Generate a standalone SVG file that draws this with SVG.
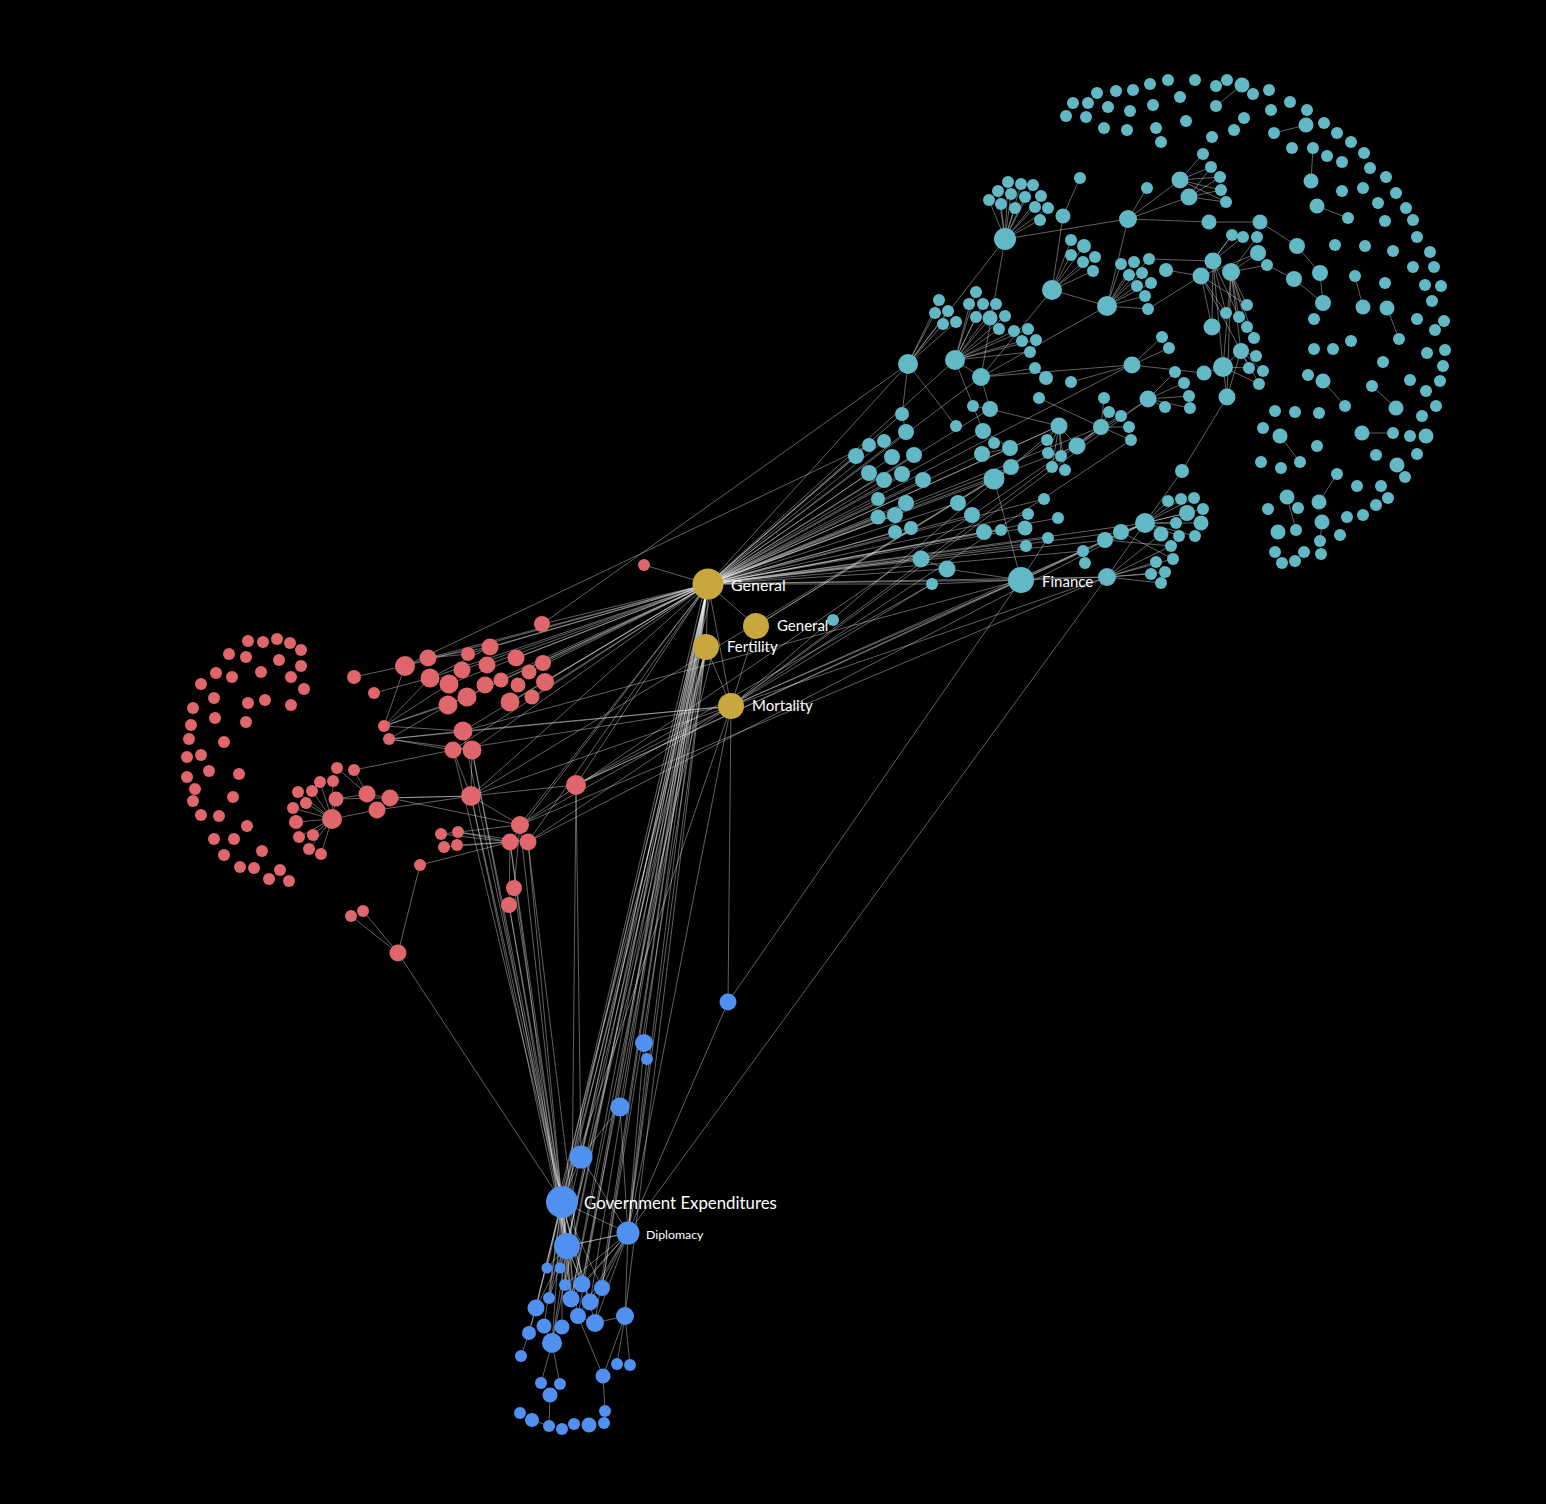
<svg xmlns="http://www.w3.org/2000/svg" width="1546" height="1504" viewBox="0 0 1546 1504">
<style>
.e{fill:none;stroke:#ffffff;stroke-opacity:0.55;stroke-width:0.7}
.teal circle{fill:#62b8c5}
.red circle{fill:#df666b}
.gold circle{fill:#c9a73f}
.blue circle{fill:#5090f0}
.lb{font-family:Lato,"Liberation Sans",sans-serif;fill:#ffffff}
</style>
<rect width="1546" height="1504" fill="#000000"/>
<g id="connectors">
<path class="e" d="
M708,584L908,364 M708,584L955,360 M708,584L981,377 M708,584L856,456 M708,584L869,445 M708,584L884,441 M708,584L892,457 M708,584L914,455 M708,584L869,473 M708,584L884,480 M708,584L902,474 M708,584L923,480 M708,584L878,499 M708,584L906,503 M708,584L878,517 M708,584L895,515 M708,584L911,528 M708,584L895,532 M708,584L921,559 M708,584L947,569 M708,584L994,479 M708,584L958,503 M708,584L972,515 M708,584L984,532 M708,584L1025,528 M708,584L1021,580 M708,584L1048,538 M708,584L1105,540 M708,584L1107,577 M708,584L1121,532 M708,584L1083,551 M708,584L1010,448 M708,584L1011,467 M708,584L1059,426 M708,584L1077,446 M708,584L906,432 M708,584L990,409 M708,584L1131,365 M708,584L932,584 M708,584L1001,530 M708,584L1028,514 M708,584L1044,499 M708,584L1058,518 M708,584L1145,523 M708,584L1101,427 M708,584L983,431 M708,584L982,454 M708,584L1026,546 M708,584L902,414
M708,584L542,624 M708,584L490,647 M708,584L516,658 M708,584L543,663 M708,584L545,682 M708,584L529,672 M708,584L532,697 M708,584L510,702 M708,584L487,665 M708,584L485,685 M708,584L468,654 M708,584L462,670 M708,584L467,697 M708,584L449,684 M708,584L448,705 M708,584L428,658 M708,584L430,678 M708,584L405,666 M708,584L463,731 M708,584L472,750 M708,584L453,750 M708,584L471,796 M708,584L520,825 M708,584L510,842 M708,584L528,842 M708,584L576,785 M708,584L644,565
M708,584L562,1202 M704,590L560,1200 M712,590L565,1200 M708,584L567,1246 M708,584L581,1157 M708,584L628,1233 M708,584L571,1299 M708,584L582,1284 M708,584L602,1288 M708,584L590,1302 M708,584L565,1285 M708,584L549,1298 M708,584L578,1316 M708,584L595,1323 M708,584L552,1343 M708,584L620,1107 M708,584L644,1043 M708,584L536,1308
M708,584L756,626 M708,584L706,647 M708,584L731,706 M756,626L731,706 M706,647L731,706
M706,647L562,1202 M706,647L567,1246 M706,647L581,1157 M706,647L628,1233 M706,647L571,1299 M706,647L582,1284 M706,647L602,1288 M706,647L625,1316 M700,655L558,1200 M712,655L566,1246
M731,706L471,796 M731,706L520,825 M731,706L528,842 M731,706L576,785 M731,706L453,750 M731,706L463,731 M731,706L389,739
M731,706L1101,427 M731,706L1131,440 M731,706L1145,523 M731,706L1107,577 M731,706L932,584 M731,706L1021,580 M731,706L1148,399 M731,706L1059,426
M731,706L728,1002 M731,706L628,1233 M731,706L562,1202
M756,626L1011,467 M756,626L994,479
M354,677L405,666 M374,693L430,678 M405,666L384,726 M405,666L428,658 M384,726L448,705 M384,726L449,684 M384,726L467,697 M384,726L463,731 M389,739L463,731 M389,739L453,750 M389,739L448,705 M389,739L472,750 M384,726L430,678 M428,658L490,647 M430,678L490,647 M428,658L468,654
M332,819L298,792 M332,819L312,791 M332,819L320,782 M332,819L333,781 M332,819L336,799 M332,819L306,803 M332,819L293,808 M332,819L296,822 M332,819L299,837 M332,819L313,835 M332,819L309,849 M332,819L321,854
M337,768L367,794 M354,770L367,794 M354,770L453,750 M336,799L367,794 M332,819L377,810 M367,794L390,798 M390,798L471,796 M377,810L471,796 M390,798L520,825 M336,799L471,796
M471,796L453,750 M471,796L472,750 M471,796L520,825 M471,796L576,785
M441,834L510,842 M458,832L510,842 M444,847L510,842 M457,845L510,842 M441,834L520,825 M458,832L528,842
M420,865L510,842 M420,865L398,953 M351,916L398,953 M363,911L398,953 M398,953L562,1202 M514,888L520,825 M509,905L510,842
M471,796L562,1202 M471,796L567,1246 M453,750L562,1202 M472,750L562,1202 M472,750L567,1246 M510,842L562,1202 M528,842L562,1202 M520,825L567,1246 M514,888L562,1202 M509,905L562,1202 M509,905L567,1246 M576,785L581,1157 M576,785L571,1299 M463,731L562,1202 M510,842L571,1299 M528,842L582,1284
M576,785L1105,540 M576,785L1145,523 M520,825L1107,577 M528,842L1145,523 M576,785L932,584 M542,624L908,364 M405,666L869,445 M520,825L1101,427 M471,796L994,479 M463,731L1021,580
M562,1202L581,1157 M562,1202L628,1233 M567,1246L628,1233 M562,1202L567,1246 M581,1157L620,1107 M620,1107L628,1233 M644,1043L628,1233 M647,1059L628,1233 M728,1002L628,1233 M581,1157L628,1233 M644,1043L647,1059
M562,1202L547,1268 M562,1202L560,1268 M562,1202L565,1285 M562,1202L582,1284 M562,1202L602,1288 M562,1202L549,1298 M562,1202L571,1299 M562,1202L590,1302 M562,1202L536,1308 M562,1202L578,1316 M562,1202L595,1323 M562,1202L544,1326 M562,1202L562,1327 M562,1202L552,1343 M562,1202L529,1333
M628,1233L602,1288 M628,1233L590,1302 M628,1233L582,1284 M628,1233L571,1299 M628,1233L625,1316 M628,1233L595,1323 M628,1233L578,1316 M628,1233L565,1285 M628,1233L567,1246
M567,1246L547,1268 M567,1246L565,1285 M567,1246L582,1284 M567,1246L549,1298 M567,1246L571,1299 M567,1246L536,1308 M567,1246L552,1343 M567,1246L590,1302
M625,1316L617,1364 M625,1316L630,1365 M625,1316L603,1376 M578,1316L603,1376 M552,1343L541,1383 M552,1343L560,1384 M550,1395L549,1426 M603,1376L605,1411 M521,1356L529,1333 M536,1308L529,1333 M578,1316L595,1323 M595,1323L625,1316 M552,1343L544,1326 M532,1420L549,1426
M1021,580L728,1002 M1107,577L628,1233
M1005,239L989,200 M1005,239L998,191 M1005,239L1008,182 M1005,239L1021,184 M1005,239L1033,185 M1005,239L1011,194 M1005,239L1025,197 M1005,239L1041,196 M1005,239L1001,204 M1005,239L1015,208 M1005,239L1035,207 M1005,239L1048,208 M1005,239L1040,220
M1005,239L1128,219 M1005,239L908,364 M1005,239L981,377 M1063,216L1080,178 M1063,216L1052,290
M1052,290L1071,240 M1052,290L1084,246 M1052,290L1071,255 M1052,290L1083,262 M1052,290L1095,257 M1052,290L1093,271 M1052,290L1107,306 M1052,290L981,377
M1128,219L1147,188 M1128,219L1180,180 M1128,219L1189,197 M1128,219L1209,222 M1128,219L1107,306
M1180,180L1203,154 M1180,180L1211,167 M1180,180L1220,177 M1180,180L1221,190 M1180,180L1226,202 M1189,197L1211,167 M1189,197L1220,177 M1189,197L1221,190 M1189,197L1226,202
M1209,222L1260,222
M1107,306L1121,264 M1107,306L1134,262 M1107,306L1149,259 M1107,306L1129,275 M1107,306L1142,273 M1107,306L1137,286 M1107,306L1151,283 M1107,306L1145,296 M1107,306L1148,309 M1107,306L981,377
M1166,270L1201,276 M1149,259L1213,261 M1148,309L1201,276
M1201,276L1232,235 M1213,261L1243,237 M1231,272L1257,237 M1231,272L1258,253 M1213,261L1232,235 M1201,276L1258,253
M1231,272L1247,305 M1231,272L1239,317 M1231,272L1247,327 M1231,272L1254,338 M1231,272L1241,351 M1231,272L1227,397 M1231,272L1223,367
M1213,261L1226,313 M1213,261L1212,327 M1213,261L1239,317 M1213,261L1223,367
M1201,276L1226,313 M1201,276L1212,327 M1201,276L1241,351 M1201,276L1247,305
M1241,351L1256,356 M1241,351L1249,368 M1241,351L1263,371 M1241,351L1259,384 M1241,351L1227,397 M1241,351L1223,367
M1223,367L1204,373 M1223,367L1227,397 M1223,367L1259,384 M1223,367L1249,368
M1231,272L1267,265 M1267,265L1294,279 M1294,279L1323,303 M1260,222L1297,246 M1297,246L1320,273 M1320,273L1323,303
M1355,276L1363,307 M1387,308L1399,339 M1323,381L1345,406 M1372,386L1396,408 M1280,436L1300,462 M1362,433L1393,433 M1337,474L1319,502 M1287,497L1296,530 M1322,522L1320,541 M1242,85L1216,106 M1306,125L1274,133 M1311,181L1313,148 M1317,206L1348,218
M908,364L939,300 M908,364L935,313 M908,364L948,311 M908,364L943,324 M908,364L956,322
M955,360L976,292 M955,360L970,304 M955,360L983,304 M955,360L996,304 M955,360L976,317 M955,360L990,318 M955,360L1005,316 M955,360L999,329 M955,360L1014,331 M955,360L1028,329 M955,360L1022,341 M955,360L1036,340 M955,360L1030,352
M908,364L902,414 M902,414L906,432 M981,377L1131,365 M981,377L1035,368 M981,377L955,360 M1035,368L1046,378
M1132,365L1162,337 M1132,365L1169,348 M1132,365L1204,373
M1148,399L1175,372 M1148,399L1184,383 M1148,399L1189,396 M1148,399L1190,408 M1148,399L1165,407
M1101,427L1104,398 M1101,427L1109,412 M1101,427L1121,416 M1101,427L1129,427 M1101,427L1131,440
M1059,426L1047,440 M1059,426L1048,453 M1059,426L1061,456 M1059,426L1052,467 M1059,426L1065,470 M1059,426L1077,446
M1077,446L1101,427 M1077,446L1148,399 M990,409L973,406 M990,409L1059,426 M983,431L1010,448 M994,479L1011,467 M982,454L1010,448 M955,360L983,431 M981,377L990,409
M994,479L1021,580 M1021,580L1107,577 M932,584L1021,580 M1021,580L1048,538 M1021,580L1083,551 M921,559L947,569 M947,569L1021,580
M1145,523L1168,501 M1145,523L1181,499 M1145,523L1194,498 M1145,523L1203,509 M1145,523L1187,513 M1145,523L1201,523 M1145,523L1176,523 M1145,523L1195,536 M1145,523L1179,536 M1145,523L1161,534 M1145,523L1121,532 M1145,523L1105,540
M1145,523L1182,471 M1182,471L1227,397
M1107,577L1171,546 M1107,577L1173,559 M1107,577L1156,562 M1107,577L1165,572 M1107,577L1151,574 M1107,577L1161,583 M1107,577L1161,534 M1107,577L1145,523 M1105,540L1171,546 M1121,532L1173,559
M908,364L956,426 M1010,448L1059,426 M1011,467L1047,440 M1071,382L1132,365 M1039,398L1101,427
"/>
</g>
<g class="teal">
<g id="t1"><circle cx="1073" cy="103" r="6"/></g>
<g id="t2"><circle cx="1088" cy="103" r="6"/></g>
<g id="t3"><circle cx="1097" cy="93" r="6"/></g>
<g id="t4"><circle cx="1116" cy="91" r="6"/></g>
<g id="t5"><circle cx="1133" cy="90" r="6"/></g>
<g id="t6"><circle cx="1150" cy="84" r="6"/></g>
<g id="t7"><circle cx="1168" cy="80" r="6"/></g>
<g id="t8"><circle cx="1195" cy="80" r="6"/></g>
<g id="t9"><circle cx="1216" cy="86" r="6"/></g>
<g id="t10"><circle cx="1227" cy="80" r="6"/></g>
<g id="t11"><circle cx="1242" cy="85" r="7.5"/></g>
<g id="t12"><circle cx="1253" cy="94" r="6"/></g>
<g id="t13"><circle cx="1269" cy="90" r="6"/></g>
<g id="t14"><circle cx="1066" cy="116" r="6"/></g>
<g id="t15"><circle cx="1086" cy="117" r="6"/></g>
<g id="t16"><circle cx="1108" cy="107" r="6"/></g>
<g id="t17"><circle cx="1130" cy="111" r="6"/></g>
<g id="t18"><circle cx="1153" cy="105" r="6"/></g>
<g id="t19"><circle cx="1180" cy="97" r="6"/></g>
<g id="t20"><circle cx="1216" cy="106" r="6"/></g>
<g id="t21"><circle cx="1104" cy="128" r="6"/></g>
<g id="t22"><circle cx="1127" cy="130" r="6"/></g>
<g id="t23"><circle cx="1156" cy="128" r="6"/></g>
<g id="t24"><circle cx="1161" cy="142" r="6"/></g>
<g id="t25"><circle cx="1186" cy="121" r="6"/></g>
<g id="t26"><circle cx="1212" cy="137" r="6"/></g>
<g id="t27"><circle cx="1234" cy="130" r="6"/></g>
<g id="t28"><circle cx="1244" cy="118" r="6"/></g>
<g id="t29"><circle cx="1271" cy="110" r="6"/></g>
<g id="t30"><circle cx="1290" cy="102" r="6"/></g>
<g id="t31"><circle cx="1307" cy="110" r="6"/></g>
<g id="t32"><circle cx="1274" cy="133" r="6"/></g>
<g id="t33"><circle cx="1306" cy="125" r="7.5"/></g>
<g id="t34"><circle cx="1324" cy="123" r="6"/></g>
<g id="t35"><circle cx="1337" cy="133" r="6"/></g>
<g id="t36"><circle cx="1351" cy="142" r="6"/></g>
<g id="t37"><circle cx="1364" cy="153" r="6"/></g>
<g id="t38"><circle cx="1370" cy="168" r="6"/></g>
<g id="t39"><circle cx="1386" cy="177" r="6"/></g>
<g id="t40"><circle cx="1396" cy="193" r="6"/></g>
<g id="t41"><circle cx="1406" cy="208" r="6"/></g>
<g id="t42"><circle cx="1413" cy="220" r="6"/></g>
<g id="t43"><circle cx="1385" cy="221" r="6"/></g>
<g id="t44"><circle cx="1378" cy="203" r="6"/></g>
<g id="t45"><circle cx="1363" cy="188" r="6"/></g>
<g id="t46"><circle cx="1342" cy="191" r="6"/></g>
<g id="t47"><circle cx="1342" cy="162" r="6"/></g>
<g id="t48"><circle cx="1327" cy="156" r="6"/></g>
<g id="t49"><circle cx="1313" cy="148" r="6"/></g>
<g id="t50"><circle cx="1292" cy="148" r="6"/></g>
<g id="t51"><circle cx="1311" cy="181" r="7.5"/></g>
<g id="t52"><circle cx="1317" cy="206" r="7.5"/></g>
<g id="t53"><circle cx="1348" cy="218" r="6"/></g>
<g id="t54"><circle cx="1203" cy="154" r="6"/></g>
<g id="t55"><circle cx="1211" cy="167" r="6"/></g>
<g id="t56"><circle cx="1220" cy="177" r="6"/></g>
<g id="t57"><circle cx="1221" cy="190" r="6"/></g>
<g id="t58"><circle cx="1226" cy="202" r="6"/></g>
<g id="t59"><circle cx="1180" cy="180" r="8.5"/></g>
<g id="t60"><circle cx="1189" cy="197" r="8.5"/></g>
<g id="t61"><circle cx="1147" cy="188" r="6"/></g>
<g id="t62"><circle cx="1128" cy="219" r="9"/></g>
<g id="t63"><circle cx="1209" cy="222" r="7.5"/></g>
<g id="t64"><circle cx="1260" cy="222" r="7.5"/></g>
<g id="t65"><circle cx="1080" cy="178" r="6"/></g>
<g id="t66"><circle cx="1063" cy="216" r="7.5"/></g>
<g id="t67"><circle cx="1243" cy="237" r="6"/></g>
<g id="t68"><circle cx="1257" cy="237" r="6"/></g>
<g id="t69"><circle cx="1232" cy="235" r="6"/></g>
<g id="t70"><circle cx="1258" cy="253" r="8"/></g>
<g id="t71"><circle cx="1231" cy="272" r="9"/></g>
<g id="t72"><circle cx="1267" cy="265" r="6"/></g>
<g id="t73"><circle cx="1297" cy="246" r="8"/></g>
<g id="t74"><circle cx="1320" cy="273" r="8"/></g>
<g id="t75"><circle cx="1294" cy="279" r="8"/></g>
<g id="t76"><circle cx="1323" cy="303" r="8"/></g>
<g id="t77"><circle cx="1314" cy="319" r="6"/></g>
<g id="t78"><circle cx="1335" cy="245" r="6"/></g>
<g id="t79"><circle cx="1365" cy="246" r="6"/></g>
<g id="t80"><circle cx="1393" cy="251" r="6"/></g>
<g id="t81"><circle cx="1417" cy="237" r="6"/></g>
<g id="t82"><circle cx="1430" cy="252" r="6"/></g>
<g id="t83"><circle cx="1413" cy="267" r="6"/></g>
<g id="t84"><circle cx="1434" cy="267" r="6"/></g>
<g id="t85"><circle cx="1425" cy="285" r="6"/></g>
<g id="t86"><circle cx="1441" cy="286" r="6"/></g>
<g id="t87"><circle cx="1432" cy="301" r="6"/></g>
<g id="t88"><circle cx="1417" cy="319" r="6"/></g>
<g id="t89"><circle cx="1444" cy="321" r="6"/></g>
<g id="t90"><circle cx="1435" cy="330" r="6"/></g>
<g id="t91"><circle cx="1355" cy="276" r="6"/></g>
<g id="t92"><circle cx="1363" cy="307" r="7.5"/></g>
<g id="t93"><circle cx="1385" cy="283" r="6"/></g>
<g id="t94"><circle cx="1387" cy="308" r="7.5"/></g>
<g id="t95"><circle cx="1399" cy="339" r="6"/></g>
<g id="t96"><circle cx="1351" cy="341" r="6"/></g>
<g id="t97"><circle cx="1314" cy="349" r="6"/></g>
<g id="t98"><circle cx="1333" cy="349" r="6"/></g>
<g id="t99"><circle cx="1427" cy="353" r="6"/></g>
<g id="t100"><circle cx="1445" cy="350" r="6"/></g>
<g id="t101"><circle cx="1443" cy="366" r="6"/></g>
<g id="t102"><circle cx="1383" cy="362" r="6"/></g>
<g id="t103"><circle cx="1440" cy="381" r="6"/></g>
<g id="t104"><circle cx="1410" cy="380" r="6"/></g>
<g id="t105"><circle cx="1426" cy="391" r="6"/></g>
<g id="t106"><circle cx="1436" cy="406" r="6"/></g>
<g id="t107"><circle cx="1422" cy="416" r="6"/></g>
<g id="t108"><circle cx="1372" cy="386" r="6"/></g>
<g id="t109"><circle cx="1396" cy="408" r="7.5"/></g>
<g id="t110"><circle cx="1308" cy="375" r="6"/></g>
<g id="t111"><circle cx="1323" cy="381" r="7.5"/></g>
<g id="t112"><circle cx="1345" cy="406" r="6"/></g>
<g id="t113"><circle cx="1275" cy="411" r="6"/></g>
<g id="t114"><circle cx="1295" cy="412" r="6"/></g>
<g id="t115"><circle cx="1319" cy="413" r="6"/></g>
<g id="t116"><circle cx="1263" cy="428" r="6"/></g>
<g id="t117"><circle cx="1280" cy="436" r="7.5"/></g>
<g id="t118"><circle cx="1300" cy="462" r="6"/></g>
<g id="t119"><circle cx="1261" cy="462" r="6"/></g>
<g id="t120"><circle cx="1281" cy="468" r="6"/></g>
<g id="t121"><circle cx="1317" cy="446" r="6"/></g>
<g id="t122"><circle cx="1362" cy="433" r="7.5"/></g>
<g id="t123"><circle cx="1393" cy="433" r="6"/></g>
<g id="t124"><circle cx="1410" cy="436" r="6"/></g>
<g id="t125"><circle cx="1426" cy="436" r="7.5"/></g>
<g id="t126"><circle cx="1376" cy="455" r="6"/></g>
<g id="t127"><circle cx="1417" cy="454" r="6"/></g>
<g id="t128"><circle cx="1397" cy="465" r="7.5"/></g>
<g id="t129"><circle cx="1405" cy="477" r="6"/></g>
<g id="t130"><circle cx="1337" cy="474" r="6"/></g>
<g id="t131"><circle cx="1357" cy="486" r="6"/></g>
<g id="t132"><circle cx="1381" cy="486" r="6"/></g>
<g id="t133"><circle cx="1388" cy="498" r="6"/></g>
<g id="t134"><circle cx="1376" cy="505" r="6"/></g>
<g id="t135"><circle cx="1363" cy="515" r="6"/></g>
<g id="t136"><circle cx="1347" cy="517" r="6"/></g>
<g id="t137"><circle cx="1340" cy="535" r="6"/></g>
<g id="t138"><circle cx="1287" cy="497" r="7.5"/></g>
<g id="t139"><circle cx="1268" cy="509" r="6"/></g>
<g id="t140"><circle cx="1298" cy="508" r="6"/></g>
<g id="t141"><circle cx="1319" cy="502" r="7.5"/></g>
<g id="t142"><circle cx="1322" cy="522" r="7.5"/></g>
<g id="t143"><circle cx="1278" cy="532" r="7.5"/></g>
<g id="t144"><circle cx="1296" cy="530" r="6"/></g>
<g id="t145"><circle cx="1320" cy="541" r="6"/></g>
<g id="t146"><circle cx="1321" cy="554" r="6"/></g>
<g id="t147"><circle cx="1275" cy="552" r="6"/></g>
<g id="t148"><circle cx="1304" cy="552" r="6"/></g>
<g id="t149"><circle cx="1282" cy="563" r="6"/></g>
<g id="t150"><circle cx="1295" cy="561" r="6"/></g>
<g id="t151"><circle cx="1247" cy="305" r="6"/></g>
<g id="t152"><circle cx="1239" cy="317" r="6"/></g>
<g id="t153"><circle cx="1247" cy="327" r="6"/></g>
<g id="t154"><circle cx="1254" cy="338" r="6"/></g>
<g id="t155"><circle cx="1241" cy="351" r="8"/></g>
<g id="t156"><circle cx="1256" cy="356" r="6"/></g>
<g id="t157"><circle cx="1249" cy="368" r="6"/></g>
<g id="t158"><circle cx="1263" cy="371" r="6"/></g>
<g id="t159"><circle cx="1259" cy="384" r="6"/></g>
<g id="t160"><circle cx="1227" cy="397" r="8.5"/></g>
<g id="t161"><circle cx="1005" cy="239" r="11"/></g>
<g id="t162"><circle cx="989" cy="200" r="6"/></g>
<g id="t163"><circle cx="998" cy="191" r="6"/></g>
<g id="t164"><circle cx="1008" cy="182" r="6"/></g>
<g id="t165"><circle cx="1021" cy="184" r="6"/></g>
<g id="t166"><circle cx="1033" cy="185" r="6"/></g>
<g id="t167"><circle cx="1011" cy="194" r="6"/></g>
<g id="t168"><circle cx="1025" cy="197" r="6"/></g>
<g id="t169"><circle cx="1041" cy="196" r="6"/></g>
<g id="t170"><circle cx="1001" cy="204" r="6"/></g>
<g id="t171"><circle cx="1015" cy="208" r="6"/></g>
<g id="t172"><circle cx="1035" cy="207" r="6"/></g>
<g id="t173"><circle cx="1048" cy="208" r="6"/></g>
<g id="t174"><circle cx="1040" cy="220" r="6"/></g>
<g id="t175"><circle cx="1052" cy="290" r="10"/></g>
<g id="t176"><circle cx="1071" cy="240" r="6"/></g>
<g id="t177"><circle cx="1084" cy="246" r="7"/></g>
<g id="t178"><circle cx="1071" cy="255" r="6"/></g>
<g id="t179"><circle cx="1083" cy="262" r="6"/></g>
<g id="t180"><circle cx="1095" cy="257" r="6"/></g>
<g id="t181"><circle cx="1093" cy="271" r="6"/></g>
<g id="t182"><circle cx="1107" cy="306" r="10"/></g>
<g id="t183"><circle cx="1121" cy="264" r="6"/></g>
<g id="t184"><circle cx="1134" cy="262" r="6"/></g>
<g id="t185"><circle cx="1149" cy="259" r="6"/></g>
<g id="t186"><circle cx="1129" cy="275" r="6"/></g>
<g id="t187"><circle cx="1142" cy="273" r="6"/></g>
<g id="t188"><circle cx="1137" cy="286" r="6"/></g>
<g id="t189"><circle cx="1151" cy="283" r="6"/></g>
<g id="t190"><circle cx="1145" cy="296" r="6"/></g>
<g id="t191"><circle cx="1148" cy="309" r="6"/></g>
<g id="t192"><circle cx="1166" cy="270" r="7"/></g>
<g id="t193"><circle cx="1201" cy="276" r="8.5"/></g>
<g id="t194"><circle cx="1213" cy="261" r="8.5"/></g>
<g id="t195"><circle cx="1226" cy="313" r="6"/></g>
<g id="t196"><circle cx="1212" cy="327" r="8.5"/></g>
<g id="t197"><circle cx="1223" cy="367" r="10"/></g>
<g id="t198"><circle cx="1204" cy="373" r="7.5"/></g>
<g id="t199"><circle cx="1162" cy="337" r="6"/></g>
<g id="t200"><circle cx="1169" cy="348" r="6"/></g>
<g id="t201"><circle cx="1132" cy="365" r="8.5"/></g>
<g id="t202"><circle cx="1175" cy="372" r="6"/></g>
<g id="t203"><circle cx="1184" cy="383" r="6"/></g>
<g id="t204"><circle cx="1189" cy="396" r="6"/></g>
<g id="t205"><circle cx="1190" cy="408" r="6"/></g>
<g id="t206"><circle cx="1148" cy="399" r="8.5"/></g>
<g id="t207"><circle cx="1165" cy="407" r="6"/></g>
<g id="t208"><circle cx="1104" cy="398" r="6"/></g>
<g id="t209"><circle cx="1109" cy="412" r="6"/></g>
<g id="t210"><circle cx="1121" cy="416" r="6"/></g>
<g id="t211"><circle cx="976" cy="292" r="6"/></g>
<g id="t212"><circle cx="969" cy="304" r="6"/></g>
<g id="t213"><circle cx="983" cy="304" r="6"/></g>
<g id="t214"><circle cx="996" cy="304" r="6"/></g>
<g id="t215"><circle cx="976" cy="317" r="6"/></g>
<g id="t216"><circle cx="990" cy="318" r="7.5"/></g>
<g id="t217"><circle cx="1005" cy="316" r="6"/></g>
<g id="t218"><circle cx="999" cy="329" r="6"/></g>
<g id="t219"><circle cx="1014" cy="331" r="6"/></g>
<g id="t220"><circle cx="1028" cy="329" r="6"/></g>
<g id="t221"><circle cx="1022" cy="341" r="6"/></g>
<g id="t222"><circle cx="1036" cy="340" r="6"/></g>
<g id="t223"><circle cx="1030" cy="352" r="6"/></g>
<g id="t224"><circle cx="981" cy="377" r="9"/></g>
<g id="t225"><circle cx="1035" cy="368" r="6"/></g>
<g id="t226"><circle cx="1046" cy="378" r="7"/></g>
<g id="t227"><circle cx="1071" cy="382" r="6"/></g>
<g id="t228"><circle cx="1039" cy="398" r="6"/></g>
<g id="t229"><circle cx="973" cy="406" r="6"/></g>
<g id="t230"><circle cx="990" cy="409" r="8"/></g>
<g id="t231"><circle cx="908" cy="364" r="10"/></g>
<g id="t232"><circle cx="955" cy="360" r="10"/></g>
<g id="t233"><circle cx="939" cy="300" r="6"/></g>
<g id="t234"><circle cx="935" cy="313" r="6"/></g>
<g id="t235"><circle cx="948" cy="311" r="6"/></g>
<g id="t236"><circle cx="943" cy="324" r="6"/></g>
<g id="t237"><circle cx="956" cy="322" r="6"/></g>
<g id="t238"><circle cx="902" cy="414" r="7"/></g>
<g id="t239"><circle cx="906" cy="432" r="8"/></g>
<g id="t240"><circle cx="956" cy="426" r="6"/></g>
<g id="t241"><circle cx="983" cy="431" r="8"/></g>
<g id="t242"><circle cx="994" cy="443" r="6"/></g>
<g id="t243"><circle cx="1010" cy="448" r="8"/></g>
<g id="t244"><circle cx="982" cy="454" r="8"/></g>
<g id="t245"><circle cx="1011" cy="467" r="8"/></g>
<g id="t246"><circle cx="1059" cy="426" r="8.5"/></g>
<g id="t247"><circle cx="1077" cy="446" r="8.5"/></g>
<g id="t248"><circle cx="1047" cy="440" r="6"/></g>
<g id="t249"><circle cx="1048" cy="453" r="6"/></g>
<g id="t250"><circle cx="1061" cy="456" r="6"/></g>
<g id="t251"><circle cx="1052" cy="467" r="6"/></g>
<g id="t252"><circle cx="1065" cy="470" r="6"/></g>
<g id="t253"><circle cx="1101" cy="427" r="8"/></g>
<g id="t254"><circle cx="1129" cy="427" r="6"/></g>
<g id="t255"><circle cx="1131" cy="440" r="6"/></g>
<g id="t256"><circle cx="869" cy="445" r="7"/></g>
<g id="t257"><circle cx="884" cy="441" r="7"/></g>
<g id="t258"><circle cx="856" cy="456" r="8"/></g>
<g id="t259"><circle cx="892" cy="457" r="8"/></g>
<g id="t260"><circle cx="914" cy="455" r="8"/></g>
<g id="t261"><circle cx="869" cy="473" r="8"/></g>
<g id="t262"><circle cx="884" cy="480" r="8"/></g>
<g id="t263"><circle cx="902" cy="474" r="8"/></g>
<g id="t264"><circle cx="923" cy="480" r="8"/></g>
<g id="t265"><circle cx="994" cy="479" r="10.5"/></g>
<g id="t266"><circle cx="878" cy="499" r="7"/></g>
<g id="t267"><circle cx="906" cy="503" r="8"/></g>
<g id="t268"><circle cx="958" cy="503" r="8"/></g>
<g id="t269"><circle cx="878" cy="517" r="7.5"/></g>
<g id="t270"><circle cx="895" cy="515" r="8"/></g>
<g id="t271"><circle cx="911" cy="528" r="7"/></g>
<g id="t272"><circle cx="895" cy="532" r="7"/></g>
<g id="t273"><circle cx="972" cy="515" r="8"/></g>
<g id="t274"><circle cx="984" cy="532" r="8"/></g>
<g id="t275"><circle cx="1001" cy="530" r="6"/></g>
<g id="t276"><circle cx="1028" cy="514" r="6"/></g>
<g id="t277"><circle cx="1044" cy="499" r="6"/></g>
<g id="t278"><circle cx="1025" cy="528" r="7.5"/></g>
<g id="t279"><circle cx="1058" cy="518" r="6"/></g>
<g id="t280"><circle cx="1048" cy="538" r="6"/></g>
<g id="t281"><circle cx="1026" cy="546" r="6"/></g>
<g id="t282"><circle cx="921" cy="559" r="8.5"/></g>
<g id="t283"><circle cx="947" cy="569" r="8.5"/></g>
<g id="finance"><circle cx="1021" cy="580" r="13"/><text class="lb" x="1042" y="587" font-size="15">Finance</text></g>
<g id="t285"><circle cx="1083" cy="551" r="6"/></g>
<g id="t286"><circle cx="1085" cy="563" r="6"/></g>
<g id="t287"><circle cx="1105" cy="540" r="8"/></g>
<g id="t288"><circle cx="1121" cy="532" r="8"/></g>
<g id="t289"><circle cx="1107" cy="577" r="9"/></g>
<g id="t290"><circle cx="1182" cy="471" r="7"/></g>
<g id="t291"><circle cx="1168" cy="501" r="6"/></g>
<g id="t292"><circle cx="1181" cy="499" r="6"/></g>
<g id="t293"><circle cx="1194" cy="498" r="6"/></g>
<g id="t294"><circle cx="1203" cy="509" r="6"/></g>
<g id="t295"><circle cx="1187" cy="513" r="8"/></g>
<g id="t296"><circle cx="1201" cy="523" r="7.5"/></g>
<g id="t297"><circle cx="1176" cy="523" r="6"/></g>
<g id="t298"><circle cx="1195" cy="536" r="6"/></g>
<g id="t299"><circle cx="1179" cy="536" r="6"/></g>
<g id="t300"><circle cx="1145" cy="523" r="10"/></g>
<g id="t301"><circle cx="1161" cy="534" r="7.5"/></g>
<g id="t302"><circle cx="1171" cy="546" r="6"/></g>
<g id="t303"><circle cx="1173" cy="559" r="6"/></g>
<g id="t304"><circle cx="1156" cy="562" r="6"/></g>
<g id="t305"><circle cx="1165" cy="572" r="6"/></g>
<g id="t306"><circle cx="1151" cy="574" r="6"/></g>
<g id="t307"><circle cx="1161" cy="583" r="6"/></g>
<g id="t308"><circle cx="932" cy="584" r="6"/></g>
<g id="t309"><circle cx="833" cy="620" r="6"/></g>
</g>
<g class="red">
<g id="r1"><circle cx="248" cy="641" r="6"/></g>
<g id="r2"><circle cx="263" cy="642" r="6"/></g>
<g id="r3"><circle cx="277" cy="639" r="6"/></g>
<g id="r4"><circle cx="290" cy="643" r="6"/></g>
<g id="r5"><circle cx="301" cy="650" r="6"/></g>
<g id="r6"><circle cx="229" cy="654" r="6"/></g>
<g id="r7"><circle cx="246" cy="657" r="6"/></g>
<g id="r8"><circle cx="279" cy="660" r="6"/></g>
<g id="r9"><circle cx="301" cy="666" r="6"/></g>
<g id="r10"><circle cx="216" cy="673" r="6"/></g>
<g id="r11"><circle cx="232" cy="677" r="6"/></g>
<g id="r12"><circle cx="261" cy="672" r="6"/></g>
<g id="r13"><circle cx="291" cy="677" r="6"/></g>
<g id="r14"><circle cx="304" cy="689" r="6"/></g>
<g id="r15"><circle cx="201" cy="684" r="6"/></g>
<g id="r16"><circle cx="214" cy="698" r="6"/></g>
<g id="r17"><circle cx="248" cy="703" r="6"/></g>
<g id="r18"><circle cx="265" cy="700" r="6"/></g>
<g id="r19"><circle cx="291" cy="705" r="6"/></g>
<g id="r20"><circle cx="193" cy="708" r="6"/></g>
<g id="r21"><circle cx="215" cy="718" r="6"/></g>
<g id="r22"><circle cx="246" cy="722" r="6"/></g>
<g id="r23"><circle cx="191" cy="725" r="6"/></g>
<g id="r24"><circle cx="189" cy="739" r="6"/></g>
<g id="r25"><circle cx="224" cy="742" r="6"/></g>
<g id="r26"><circle cx="187" cy="757" r="6"/></g>
<g id="r27"><circle cx="201" cy="755" r="6"/></g>
<g id="r28"><circle cx="209" cy="771" r="6"/></g>
<g id="r29"><circle cx="239" cy="774" r="6"/></g>
<g id="r30"><circle cx="187" cy="777" r="6"/></g>
<g id="r31"><circle cx="195" cy="789" r="6"/></g>
<g id="r32"><circle cx="233" cy="797" r="6"/></g>
<g id="r33"><circle cx="193" cy="801" r="6"/></g>
<g id="r34"><circle cx="201" cy="815" r="6"/></g>
<g id="r35"><circle cx="219" cy="816" r="6"/></g>
<g id="r36"><circle cx="247" cy="826" r="6"/></g>
<g id="r37"><circle cx="214" cy="839" r="6"/></g>
<g id="r38"><circle cx="234" cy="839" r="6"/></g>
<g id="r39"><circle cx="262" cy="851" r="6"/></g>
<g id="r40"><circle cx="224" cy="855" r="6"/></g>
<g id="r41"><circle cx="240" cy="867" r="6"/></g>
<g id="r42"><circle cx="254" cy="868" r="6"/></g>
<g id="r43"><circle cx="280" cy="870" r="6"/></g>
<g id="r44"><circle cx="269" cy="879" r="6"/></g>
<g id="r45"><circle cx="289" cy="881" r="6"/></g>
<g id="r46"><circle cx="332" cy="819" r="10"/></g>
<g id="r47"><circle cx="298" cy="792" r="6"/></g>
<g id="r48"><circle cx="312" cy="791" r="6"/></g>
<g id="r49"><circle cx="320" cy="782" r="6"/></g>
<g id="r50"><circle cx="333" cy="781" r="6"/></g>
<g id="r51"><circle cx="337" cy="768" r="6"/></g>
<g id="r52"><circle cx="354" cy="770" r="6"/></g>
<g id="r53"><circle cx="336" cy="799" r="7.5"/></g>
<g id="r54"><circle cx="306" cy="803" r="6"/></g>
<g id="r55"><circle cx="293" cy="808" r="6"/></g>
<g id="r56"><circle cx="296" cy="822" r="7"/></g>
<g id="r57"><circle cx="299" cy="837" r="6"/></g>
<g id="r58"><circle cx="313" cy="835" r="6"/></g>
<g id="r59"><circle cx="309" cy="849" r="6"/></g>
<g id="r60"><circle cx="321" cy="854" r="6"/></g>
<g id="r61"><circle cx="367" cy="794" r="8.5"/></g>
<g id="r62"><circle cx="390" cy="798" r="8.5"/></g>
<g id="r63"><circle cx="377" cy="810" r="8.5"/></g>
<g id="r64"><circle cx="471" cy="796" r="10"/></g>
<g id="r65"><circle cx="354" cy="677" r="7"/></g>
<g id="r66"><circle cx="374" cy="693" r="6"/></g>
<g id="r67"><circle cx="405" cy="666" r="10"/></g>
<g id="r68"><circle cx="428" cy="658" r="8.5"/></g>
<g id="r69"><circle cx="430" cy="678" r="9.5"/></g>
<g id="r70"><circle cx="449" cy="684" r="9.5"/></g>
<g id="r71"><circle cx="448" cy="705" r="9.5"/></g>
<g id="r72"><circle cx="467" cy="697" r="9.5"/></g>
<g id="r73"><circle cx="462" cy="670" r="8.5"/></g>
<g id="r74"><circle cx="468" cy="654" r="7"/></g>
<g id="r75"><circle cx="490" cy="647" r="8.5"/></g>
<g id="r76"><circle cx="487" cy="665" r="8.5"/></g>
<g id="r77"><circle cx="485" cy="685" r="8.5"/></g>
<g id="r78"><circle cx="501" cy="680" r="7.5"/></g>
<g id="r79"><circle cx="510" cy="702" r="9.5"/></g>
<g id="r80"><circle cx="516" cy="658" r="8.5"/></g>
<g id="r81"><circle cx="529" cy="672" r="7.5"/></g>
<g id="r82"><circle cx="518" cy="685" r="7.5"/></g>
<g id="r83"><circle cx="532" cy="697" r="7.5"/></g>
<g id="r84"><circle cx="543" cy="663" r="8"/></g>
<g id="r85"><circle cx="545" cy="682" r="9"/></g>
<g id="r86"><circle cx="542" cy="624" r="8"/></g>
<g id="r87"><circle cx="384" cy="726" r="6"/></g>
<g id="r88"><circle cx="389" cy="739" r="6"/></g>
<g id="r89"><circle cx="463" cy="731" r="9.5"/></g>
<g id="r90"><circle cx="453" cy="750" r="8.5"/></g>
<g id="r91"><circle cx="472" cy="750" r="9.5"/></g>
<g id="r92"><circle cx="520" cy="825" r="9"/></g>
<g id="r93"><circle cx="510" cy="842" r="8.5"/></g>
<g id="r94"><circle cx="528" cy="842" r="8.5"/></g>
<g id="r95"><circle cx="441" cy="834" r="6"/></g>
<g id="r96"><circle cx="458" cy="832" r="6"/></g>
<g id="r97"><circle cx="444" cy="847" r="6"/></g>
<g id="r98"><circle cx="457" cy="845" r="6"/></g>
<g id="r99"><circle cx="420" cy="865" r="6"/></g>
<g id="r100"><circle cx="514" cy="888" r="8"/></g>
<g id="r101"><circle cx="509" cy="905" r="8"/></g>
<g id="r102"><circle cx="351" cy="916" r="6"/></g>
<g id="r103"><circle cx="363" cy="911" r="6"/></g>
<g id="r104"><circle cx="576" cy="785" r="10"/></g>
<g id="r105"><circle cx="398" cy="953" r="8.5"/></g>
<g id="r106"><circle cx="644" cy="565" r="6"/></g>
</g>
<g class="blue">
<g id="govexp"><circle cx="562" cy="1202" r="16"/><text class="lb" x="584" y="1209" font-size="16.8">Government Expenditures</text></g>
<g id="b2"><circle cx="581" cy="1157" r="11.5"/></g>
<g id="diplomacy"><circle cx="628" cy="1233" r="11.5"/><text class="lb" x="646" y="1239" font-size="12.3">Diplomacy</text></g>
<g id="b4"><circle cx="567" cy="1246" r="13"/></g>
<g id="b5"><circle cx="547" cy="1268" r="5.5"/></g>
<g id="b6"><circle cx="560" cy="1268" r="5.5"/></g>
<g id="b7"><circle cx="565" cy="1285" r="6"/></g>
<g id="b8"><circle cx="582" cy="1284" r="8.5"/></g>
<g id="b9"><circle cx="602" cy="1288" r="8"/></g>
<g id="b10"><circle cx="549" cy="1298" r="6"/></g>
<g id="b11"><circle cx="571" cy="1299" r="8.5"/></g>
<g id="b12"><circle cx="590" cy="1302" r="8.5"/></g>
<g id="b13"><circle cx="536" cy="1308" r="8.5"/></g>
<g id="b14"><circle cx="578" cy="1316" r="8"/></g>
<g id="b15"><circle cx="595" cy="1323" r="9"/></g>
<g id="b16"><circle cx="625" cy="1316" r="9"/></g>
<g id="b17"><circle cx="544" cy="1326" r="7.5"/></g>
<g id="b18"><circle cx="562" cy="1327" r="7.5"/></g>
<g id="b19"><circle cx="529" cy="1333" r="7"/></g>
<g id="b20"><circle cx="552" cy="1343" r="10"/></g>
<g id="b21"><circle cx="521" cy="1356" r="6"/></g>
<g id="b22"><circle cx="617" cy="1364" r="6"/></g>
<g id="b23"><circle cx="630" cy="1365" r="6"/></g>
<g id="b24"><circle cx="603" cy="1376" r="7.5"/></g>
<g id="b25"><circle cx="541" cy="1383" r="6"/></g>
<g id="b26"><circle cx="560" cy="1384" r="6"/></g>
<g id="b27"><circle cx="550" cy="1395" r="7.5"/></g>
<g id="b28"><circle cx="605" cy="1411" r="6"/></g>
<g id="b29"><circle cx="520" cy="1413" r="6"/></g>
<g id="b30"><circle cx="532" cy="1420" r="7"/></g>
<g id="b31"><circle cx="549" cy="1426" r="6"/></g>
<g id="b32"><circle cx="562" cy="1429" r="6"/></g>
<g id="b33"><circle cx="574" cy="1424" r="6"/></g>
<g id="b34"><circle cx="589" cy="1425" r="7.5"/></g>
<g id="b35"><circle cx="604" cy="1423" r="6"/></g>
<g id="b36"><circle cx="620" cy="1107" r="9.5"/></g>
<g id="b37"><circle cx="644" cy="1043" r="9"/></g>
<g id="b38"><circle cx="647" cy="1059" r="6"/></g>
<g id="b39"><circle cx="728" cy="1002" r="8.5"/></g>
</g>
<g class="gold">
<g id="general1"><circle cx="708" cy="584" r="15.5"/><text class="lb" x="731" y="591" font-size="16">General</text></g>
<g id="general2"><circle cx="756" cy="626" r="13"/><text class="lb" x="777" y="631" font-size="15">General</text></g>
<g id="fertility"><circle cx="706" cy="647" r="13"/><text class="lb" x="727" y="652" font-size="15">Fertility</text></g>
<g id="mortality"><circle cx="731" cy="706" r="13"/><text class="lb" x="752" y="711" font-size="15">Mortality</text></g>
</g>
</svg>
